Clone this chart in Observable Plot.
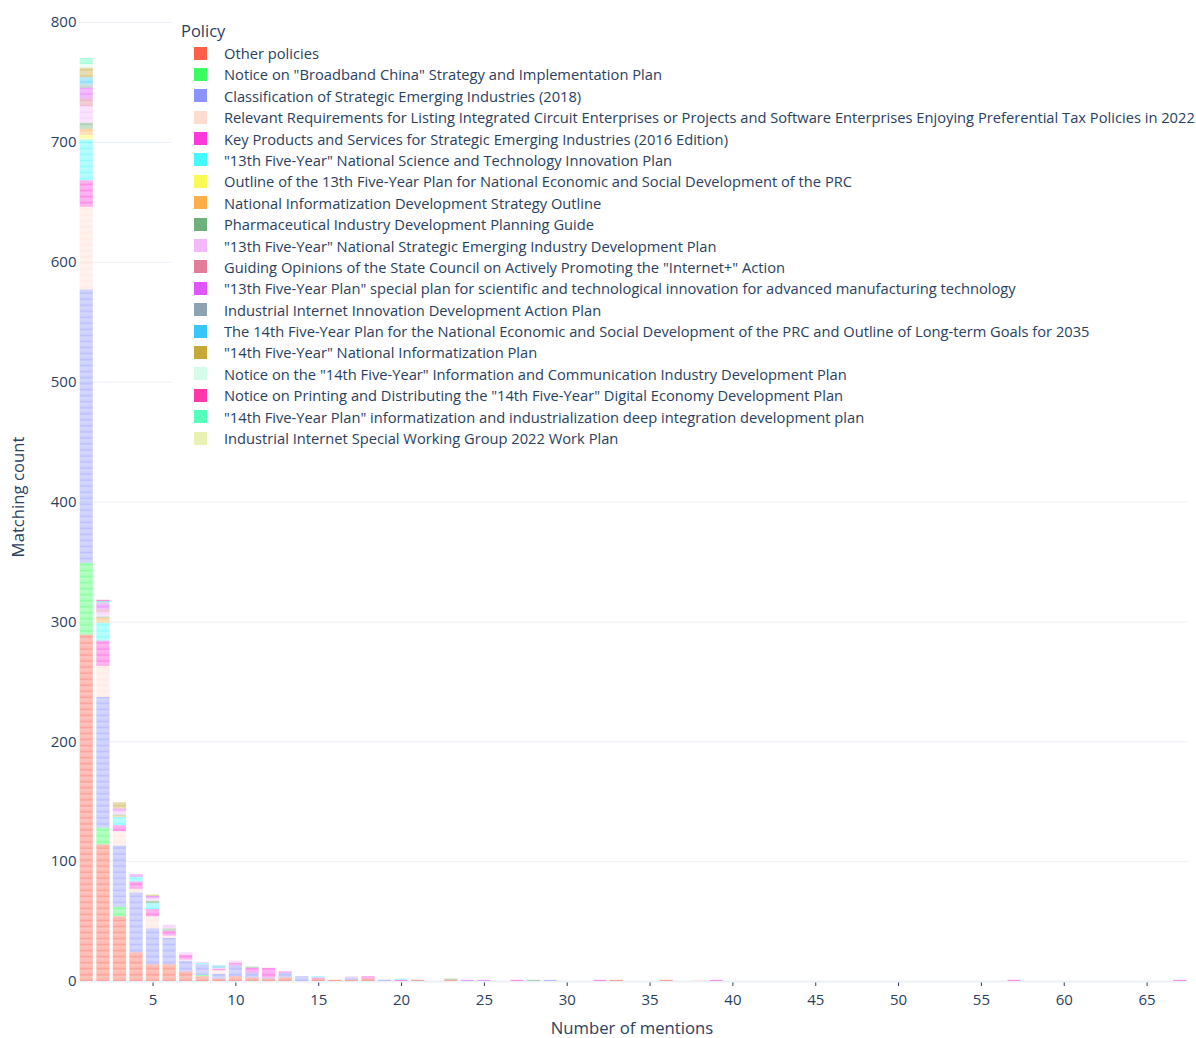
<!DOCTYPE html>
<html>
<head>
<meta charset="utf-8">
<script src="https://cdn.jsdelivr.net/npm/d3@7"></script>
<script src="https://cdn.jsdelivr.net/npm/@observablehq/plot@0.6"></script>
<style>
  body { margin: 0; background: #fff; font-family: "Open Sans", sans-serif; color: #2a3f5f; }
  #wrap { position: relative; width: 1196px; height: 1038px; overflow: hidden; }
  #wrap svg { position: absolute; left: 0; top: 0; }
  .abs { position: absolute; white-space: nowrap; }
  .legend-bg { position: absolute; left: 172px; top: 12px; width: 1024px; height: 440px; background: #fff; }
  .legend-title { font-size: 16.5px; line-height: 20px; }
  .legend-item { font-size: 14.7px; line-height: 18px; }
  .swatch { position: absolute; width: 13px; height: 13px; opacity: 0.78; }
  .axis-title { font-size: 16.7px; line-height: 18px; transform: translate(-50%, -50%); }
  .axis-title.y { transform: translate(-50%, -50%) rotate(-90deg); }
</style>
</head>
<body>
<div id="wrap"></div>
<script>
// Policies (legend / stacking order) and their colours
const policies = [
  "Other policies",
  "Notice on \"Broadband China\" Strategy and Implementation Plan",
  "Classification of Strategic Emerging Industries (2018)",
  "Relevant Requirements for Listing Integrated Circuit Enterprises or Projects and Software Enterprises Enjoying Preferential Tax Policies in 2022",
  "Key Products and Services for Strategic Emerging Industries (2016 Edition)",
  "\"13th Five-Year\" National Science and Technology Innovation Plan",
  "Outline of the 13th Five-Year Plan for National Economic and Social Development of the PRC",
  "National Informatization Development Strategy Outline",
  "Pharmaceutical Industry Development Planning Guide",
  "\"13th Five-Year\" National Strategic Emerging Industry Development Plan",
  "Guiding Opinions of the State Council on Actively Promoting the \"Internet+\" Action",
  "\"13th Five-Year Plan\" special plan for scientific and technological innovation for advanced manufacturing technology",
  "Industrial Internet Innovation Development Action Plan",
  "The 14th Five-Year Plan for the National Economic and Social Development of the PRC and Outline of Long-term Goals for 2035",
  "\"14th Five-Year\" National Informatization Plan",
  "Notice on the \"14th Five-Year\" Information and Communication Industry Development Plan",
  "Notice on Printing and Distributing the \"14th Five-Year\" Digital Economy Development Plan",
  "\"14th Five-Year Plan\" informatization and industrialization deep integration development plan",
  "Industrial Internet Special Working Group 2022 Work Plan"
];
const policyColors = [
  "#FD3216", "#00FE35", "#6A76FC", "#FED4C4", "#FE00CE", "#0DF9FF", "#F6F926",
  "#FF9616", "#479B55", "#EEA6FB", "#DC587D", "#D626FF", "#6E899C", "#00B5F7",
  "#B68E00", "#C9FBE5", "#FF0092", "#22FFA7", "#E3EE9E"
];

// Number of mentions (x values that have bars)
const mentions = [1, 2, 3, 4, 5, 6, 7, 8, 9, 10, 11, 12, 13, 14, 15, 16, 17, 18, 19, 20, 21,
                  23, 24, 25, 27, 28, 29, 32, 33, 36, 38, 39, 57, 67];

// Matching count per policy (same order as `policies`) for each entry of `mentions`
const countsByMention = [
  [289, 60, 228, 69, 22, 34, 4, 5, 5, 14, 6, 9, 3, 6, 8, 3, 0, 5, 0], // 1
  [114, 14, 109, 26, 21, 15, 0, 4, 1, 4, 2, 5, 1, 1, 0, 0, 1, 0, 0],  // 2
  [54, 8, 51, 12, 5, 7, 0, 1, 1, 3, 0, 2, 0, 0, 5, 0, 0, 0, 0],       // 3
  [24, 0, 50, 3, 6, 4, 0, 0, 0, 0, 0, 2, 0, 0, 0, 0, 0, 0, 0],        // 4
  [14, 0, 30, 10, 6, 5, 0, 0, 2, 2, 0, 2, 0, 0, 1, 0, 0, 0, 0],       // 5
  [14, 0, 22, 2, 4, 0, 0, 0, 2, 3, 0, 0, 0, 0, 0, 0, 0, 0, 0],        // 6
  [8, 0, 9, 1, 4, 0, 0, 0, 0, 2, 0, 0, 0, 0, 0, 0, 0, 0, 0],          // 7
  [4, 1, 9, 0, 0, 1, 0, 0, 0, 1, 0, 0, 0, 0, 0, 0, 0, 0, 0],          // 8
  [2, 0, 4, 3, 1, 0, 0, 0, 0, 1, 0, 0, 0, 2, 0, 0, 0, 0, 0],          // 9
  [4, 0, 9, 0, 2, 0, 0, 0, 0, 2, 0, 0, 0, 0, 0, 0, 0, 0, 0],          // 10
  [3, 0, 4, 0, 4, 0, 0, 0, 1, 0, 0, 0, 0, 0, 0, 0, 0, 0, 0],          // 11
  [2, 0, 1, 0, 8, 0, 0, 0, 0, 0, 0, 0, 0, 0, 0, 0, 0, 0, 0],          // 12
  [3, 0, 4, 0, 1, 0, 0, 0, 0, 0, 0, 0, 0, 0, 0, 0, 0, 0, 0],          // 13
  [0, 0, 4, 0, 0, 0, 0, 0, 0, 0, 0, 0, 0, 0, 0, 0, 0, 0, 0],          // 14
  [2, 0, 0, 0, 1, 1, 0, 0, 0, 0, 0, 0, 0, 0, 0, 0, 0, 0, 0],          // 15
  [1, 0, 0, 0, 0, 0, 0, 0, 0, 0, 0, 0, 0, 0, 0, 0, 0, 0, 0],          // 16
  [1, 0, 2, 0, 0, 0, 0, 0, 0, 1, 0, 0, 0, 0, 0, 0, 0, 0, 0],          // 17
  [2, 0, 0, 0, 2, 0, 0, 0, 0, 0, 0, 0, 0, 0, 0, 0, 0, 0, 0],          // 18
  [0, 0, 1, 0, 0, 0, 0, 0, 0, 0, 0, 0, 0, 0, 0, 0, 0, 0, 0],          // 19
  [0, 0, 0, 0, 1, 1, 0, 0, 0, 0, 0, 0, 0, 0, 0, 0, 0, 0, 0],          // 20
  [1, 0, 0, 0, 0, 0, 0, 0, 0, 0, 0, 0, 0, 0, 0, 0, 0, 0, 0],          // 21
  [1, 0, 0, 0, 0, 0, 0, 0, 1, 0, 0, 0, 0, 0, 0, 0, 0, 0, 0],          // 23
  [0, 0, 0, 0, 0, 0, 0, 0, 0, 0, 0, 1, 0, 0, 0, 0, 0, 0, 0],          // 24
  [0, 0, 0, 0, 0, 0, 0, 0, 0, 0, 0, 1, 0, 0, 0, 0, 0, 0, 0],          // 25
  [0, 0, 0, 0, 1, 0, 0, 0, 0, 0, 0, 0, 0, 0, 0, 0, 0, 0, 0],          // 27
  [0, 0, 0, 0, 0, 0, 0, 0, 1, 0, 0, 0, 0, 0, 0, 0, 0, 0, 0],          // 28
  [0, 0, 1, 0, 0, 0, 0, 0, 0, 0, 0, 0, 0, 0, 0, 0, 0, 0, 0],          // 29
  [0, 0, 0, 0, 1, 0, 0, 0, 0, 0, 0, 0, 0, 0, 0, 0, 0, 0, 0],          // 32
  [1, 0, 0, 0, 0, 0, 0, 0, 0, 0, 0, 0, 0, 0, 0, 0, 0, 0, 0],          // 33
  [1, 0, 0, 0, 0, 0, 0, 0, 0, 0, 0, 0, 0, 0, 0, 0, 0, 0, 0],          // 36
  [0, 0, 0, 1, 0, 0, 0, 0, 0, 0, 0, 0, 0, 0, 0, 0, 0, 0, 0],          // 38
  [0, 0, 0, 0, 1, 0, 0, 0, 0, 0, 0, 0, 0, 0, 0, 0, 0, 0, 0],          // 39
  [0, 0, 0, 0, 1, 0, 0, 0, 0, 0, 0, 0, 0, 0, 0, 0, 0, 0, 0],          // 57
  [0, 0, 0, 0, 1, 0, 0, 0, 0, 0, 0, 0, 0, 0, 0, 0, 0, 0, 0]           // 67
];

// Axis ticks
const xTicks = [5, 10, 15, 20, 25, 30, 35, 40, 45, 50, 55, 60, 65];
const yTicks = [0, 100, 200, 300, 400, 500, 600, 700, 800];

// One record per matching item, stacked in policy order within each bar
const records = [];
mentions.forEach((m, i) => {
  let level = 0;
  countsByMention[i].forEach((c, p) => {
    for (let k = 0; k < c; k++) {
      records.push({mentions: m, policy: policies[p], y1: level, y2: level + 1});
      level++;
    }
  });
});

const chart = Plot.plot({
  width: 1196,
  height: 1038,
  marginLeft: 78,
  marginRight: 8,
  marginTop: 22,
  marginBottom: 57,
  style: {fontFamily: "'Open Sans', sans-serif", fontSize: "15px", color: "#2a3f5f", background: "white"},
  x: {domain: [0.5, 67.5], ticks: xTicks, tickSize: 5, tickPadding: 8, label: null},
  y: {domain: [0, 800], ticks: yTicks, tickSize: 0, tickPadding: 2, label: null},
  color: {domain: policies, range: policyColors},
  marks: [
    Plot.ruleY(yTicks.filter(t => t > 0), {stroke: "#EBF0F8", strokeWidth: 1}),
    Plot.ruleY([0], {stroke: "#EBF0F8", strokeWidth: 2}),
    Plot.rect(records, {
      x1: d => d.mentions - 0.4,
      x2: d => d.mentions + 0.4,
      y1: "y1",
      y2: "y2",
      fill: "policy",
      fillOpacity: 0.48,
      stroke: "white",
      strokeOpacity: 0.7,
      strokeWidth: 0.3
    })
  ]
});

const wrap = d3.select("#wrap");
wrap.node().appendChild(chart);

// Axis titles
wrap.append("div").attr("class", "abs axis-title y").style("left", "18px").style("top", "497px").text("Matching count");
wrap.append("div").attr("class", "abs axis-title").style("left", "632px").style("top", "1028px").text("Number of mentions");

// Legend (overlaid on the plot area, like the original)
wrap.append("div").attr("class", "legend-bg");
wrap.append("div").attr("class", "abs legend-title").style("left", "181px").style("top", "21px").text("Policy");
policies.forEach((p, i) => {
  const cy = 53 + i * 21.39;
  wrap.append("div").attr("class", "swatch")
    .style("left", "194px").style("top", (cy - 6.5) + "px")
    .style("background", policyColors[i]);
  wrap.append("div").attr("class", "abs legend-item")
    .style("left", "224px").style("top", (cy - 9) + "px")
    .text(p);
});
</script>
</body>
</html>
